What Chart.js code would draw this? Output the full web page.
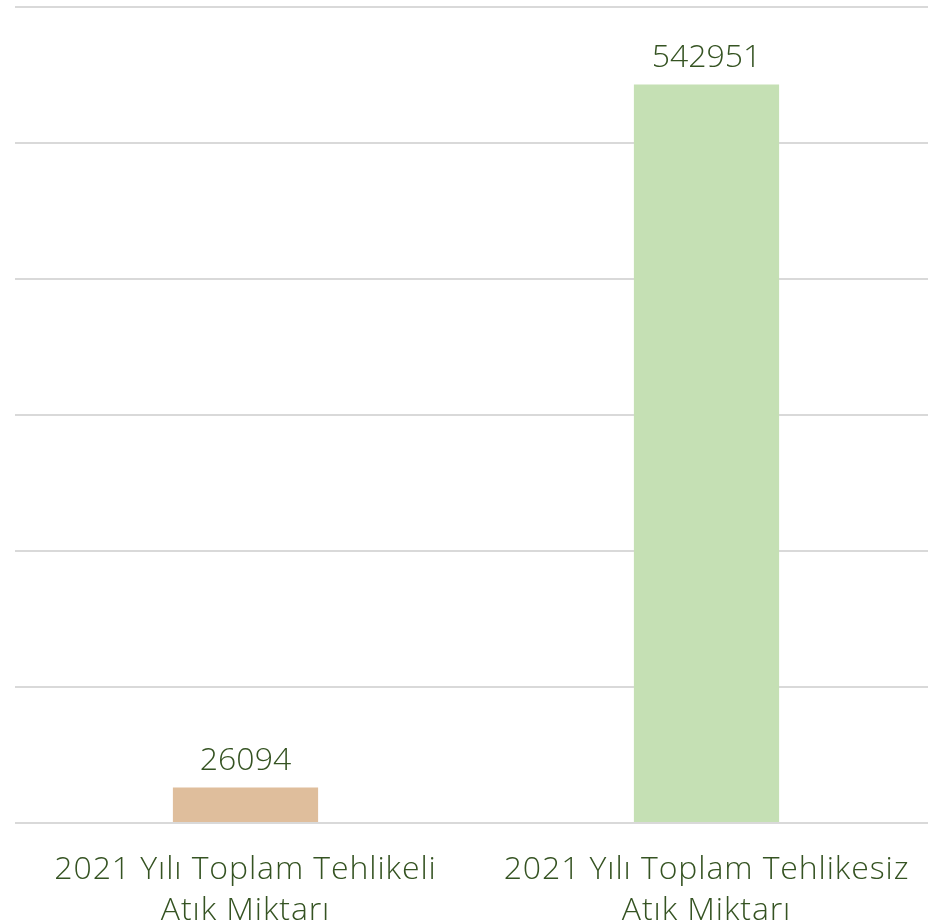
<!DOCTYPE html>
<html>
<head>
<meta charset="utf-8">
<script src="https://cdn.jsdelivr.net/npm/chart.js@4/dist/chart.umd.min.js"></script>
<style>
  html, body { margin: 0; padding: 0; background: #fff; overflow: hidden; }
  #wrap { position: relative; width: 937px; height: 922px; }
</style>
</head>
<body>
<div id="wrap"><canvas id="atikChart"></canvas></div>
<script>
// Veriler
const categories = [
    ['2021 Yılı Toplam Tehlikeli', 'Atık Miktarı'],
    ['2021 Yılı Toplam Tehlikesiz', 'Atık Miktarı']
];
const values = [26094, 542951];
const barColors = ['#DFBE9C', '#C5E0B4'];

const textColor = '#355322';
const fontFamily = '"Open Sans", "DejaVu Sans", sans-serif';
const axisSpacing = '0.9px';

// Harf aralığı (Montserrat'a benzesin diye)
const spacing = {
    id: 'spacing',
    beforeInit(chart) { chart.ctx.letterSpacing = axisSpacing; },
    beforeUpdate(chart) { chart.ctx.letterSpacing = axisSpacing; },
    beforeDraw(chart) { chart.ctx.letterSpacing = axisSpacing; }
};

// Etiketleri çubukların üstüne yaz
const valueLabels = {
    id: 'valueLabels',
    afterDatasetsDraw(chart) {
        const ctx = chart.ctx;
        const meta = chart.getDatasetMeta(0);
        ctx.save();
        ctx.letterSpacing = '0px';
        ctx.fillStyle = textColor;
        ctx.font = '300 32px ' + fontFamily;
        ctx.textAlign = 'center';
        ctx.textBaseline = 'alphabetic';
        meta.data.forEach((bar, i) => {
            ctx.fillText(String(chart.data.datasets[0].data[i]), bar.x, bar.y - 18);
        });
        ctx.restore();
    }
};

new Chart(document.getElementById('atikChart').getContext('2d'), {
    type: 'bar',
    data: {
        labels: categories,
        datasets: [{
            data: values,
            backgroundColor: barColors,
            barPercentage: 1,
            categoryPercentage: 0.315
        }]
    },
    options: {
        responsive: true,
        maintainAspectRatio: false,
        animation: false,
        layout: { padding: { top: 7, left: 0, right: 0, bottom: 0 } },
        plugins: {
            legend: { display: false },
            tooltip: { enabled: false }
        },
        scales: {
            x: {
                grid: { display: false },
                border: { display: false },
                ticks: {
                    color: textColor,
                    font: { family: fontFamily, size: 32, weight: '300', lineHeight: 1.28 },
                    padding: 18,
                    maxRotation: 0,
                    autoSkip: false
                },
                afterFit(scale) { scale.height = 99; }
            },
            y: {
                min: 0,
                max: 600000,
                ticks: { display: false, stepSize: 100000 },
                grid: { color: '#D9D9D9', lineWidth: 2, drawTicks: false },
                border: { display: false },
                afterFit(scale) { scale.width = 15; }
            }
        }
    },
    plugins: [spacing, valueLabels]
});
</script>
</body>
</html>
